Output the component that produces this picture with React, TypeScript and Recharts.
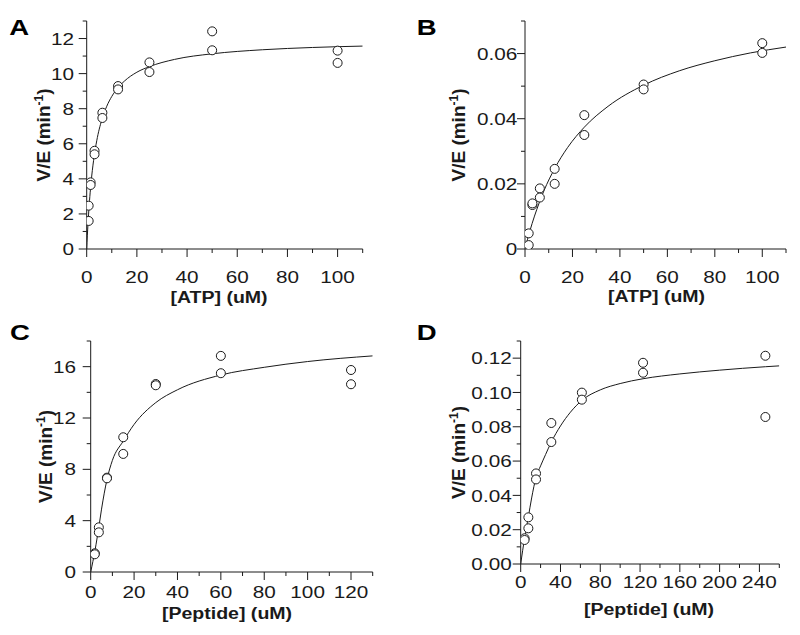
import React from 'react';
import { ComposedChart, Line, Scatter, XAxis, YAxis } from 'recharts';

const FONT = '"Liberation Sans", Arial, Helvetica, sans-serif';
const INK = '#1a1a1a';

// ---------- Panel A : [ATP] vs V/E ----------
const atpA = [0.78, 0.78, 1.56, 1.56, 3.125, 3.125, 6.25, 6.25, 12.5, 12.5, 25, 25, 50, 50, 100, 100];
const rateA = [1.6, 2.47, 3.8, 3.65, 5.6, 5.4, 7.77, 7.47, 9.29, 9.1, 10.64, 10.09, 12.41, 11.33, 11.31, 10.61];
const fitXA = [0, 0.25, 0.5, 1, 1.5, 2, 3, 4, 6, 8, 10, 12.5, 15, 20, 25, 35, 50, 70, 90, 110];
const fitYA = [0, 0.75, 1.4, 2.52, 3.41, 4.16, 5.31, 6.17, 7.36, 8.14, 8.7, 9.2, 9.57, 10.08, 10.4, 10.81, 11.13, 11.36, 11.49, 11.57];
const xTicksA = [0, 10, 20, 30, 40, 50, 60, 70, 80, 90, 100, 110];
const yTicksA = [0, 1, 2, 3, 4, 5, 6, 7, 8, 9, 10, 11, 12, 13];

// ---------- Panel B : [ATP] vs V/E ----------
const atpB = [1.56, 1.56, 3.125, 3.125, 6.25, 6.25, 12.5, 12.5, 25, 25, 50, 50, 100, 100];
const rateB = [0.0012, 0.0048, 0.0135, 0.014, 0.0186, 0.0158, 0.0246, 0.02, 0.0411, 0.035, 0.0505, 0.049, 0.0632, 0.0602];
const fitXB = [0, 1, 2, 4, 6, 8, 12.5, 18, 25, 35, 50, 65, 80, 95, 110];
const fitYB = [0, 0.0028, 0.0054, 0.0101, 0.0142, 0.0179, 0.0247, 0.0312, 0.0374, 0.0438, 0.0503, 0.0547, 0.0578, 0.0602, 0.062];
const xTicksB = [0, 10, 20, 30, 40, 50, 60, 70, 80, 90, 100, 110];
const yTicksB = [0, 0.01, 0.02, 0.03, 0.04, 0.05, 0.06, 0.07];

// ---------- Panel C : [Peptide] vs V/E ----------
const pepC = [1.875, 1.875, 3.75, 3.75, 7.5, 7.5, 15, 15, 30, 30, 60, 60, 120, 120];
const rateC = [1.46, 1.38, 3.48, 3.09, 7.35, 7.3, 10.5, 9.2, 14.65, 14.55, 16.84, 15.49, 15.74, 14.63];
const fitXC = [0, 2, 3.75, 5, 7.5, 10, 15, 20, 30, 40, 60, 80, 100, 130];
const fitYC = [0, 1.7, 3.5, 4.9, 7.2, 8.7, 10.2, 11.5, 13.2, 14.2, 15.35, 15.95, 16.4, 16.84];
const xTicksC = [0, 10, 20, 30, 40, 50, 60, 70, 80, 90, 100, 110, 120, 130];
const yTicksC = [0, 2, 4, 6, 8, 10, 12, 14, 16, 18];

// ---------- Panel D : [Peptide] vs V/E ----------
const pepD = [3.9, 3.9, 7.7, 7.7, 15.4, 15.4, 30.8, 30.8, 61.5, 61.5, 123, 123, 246, 246];
const rateD = [0.015, 0.014, 0.0272, 0.0208, 0.0528, 0.0493, 0.0822, 0.0711, 0.0999, 0.0958, 0.1173, 0.1115, 0.1214, 0.0857];
const fitXD = [0, 2, 3.9, 7.7, 11, 15.4, 20, 25, 30.8, 40, 50, 61.5, 80, 100, 123, 160, 200, 246, 260];
const fitYD = [0, 0.008, 0.015, 0.0275, 0.0385, 0.0505, 0.0572, 0.0638, 0.0711, 0.0805, 0.0885, 0.0954, 0.1015, 0.1052, 0.108, 0.1108, 0.113, 0.115, 0.1155];
const xTicksD = [0, 20, 40, 60, 80, 100, 120, 140, 160, 180, 200, 220, 240, 260];
const yTicksD = [0, 0.01, 0.02, 0.03, 0.04, 0.05, 0.06, 0.07, 0.08, 0.09, 0.1, 0.11, 0.12, 0.13];

const toPts = (xs: number[], ys: number[]) => xs.map((x, i) => ({ x, y: ys[i] }));

type Cfg = {
  letter: string;
  xTitle: string;
  ox: number; oy: number; h: number;
  L: number; R: number; T: number; B: number;
  xTicks: number[]; yTicks: number[];
  xMajor: number; yMajor: number;
  yFmt: (v: number) => string;
  yGap: number; xLblBase: number; xTitleBase: number; xTitleCx: number; yTitleCx: number;
  letterX: number; letterY: number;
  pts: { x: number; y: number }[];
  fit: { x: number; y: number }[];
};

const isMajor = (v: number, step: number) => Math.abs(v / step - Math.round(v / step)) < 1e-6;

const panels: Cfg[] = [
  {
    letter: 'A', xTitle: '[ATP] (uM)', ox: 0, oy: 0, h: 320,
    L: 86.7, R: 362.7, T: 21, B: 249,
    xTicks: xTicksA, yTicks: yTicksA, xMajor: 20, yMajor: 2,
    yFmt: (v) => String(v),
    yGap: 12.7, xLblBase: 34, xTitleBase: 53.5, xTitleCx: 219, yTitleCx: 43.3,
    letterX: 9.3, letterY: 35,
    pts: toPts(atpA, rateA), fit: toPts(fitXA, fitYA),
  },
  {
    letter: 'B', xTitle: '[ATP] (uM)', ox: 400, oy: 0, h: 320,
    L: 525, R: 786, T: 21, B: 249,
    xTicks: xTicksB, yTicks: yTicksB, xMajor: 20, yMajor: 0.02,
    yFmt: (v) => (v === 0 ? '0' : v.toFixed(2)),
    yGap: 7.7, xLblBase: 33.7, xTitleBase: 53, xTitleCx: 656.5, yTitleCx: 458,
    letterX: 416.7, letterY: 35,
    pts: toPts(atpB, rateB), fit: toPts(fitXB, fitYB),
  },
  {
    letter: 'C', xTitle: '[Peptide] (uM)', ox: 0, oy: 320, h: 315,
    L: 90.7, R: 372.7, T: 341, B: 572,
    xTicks: xTicksC, yTicks: yTicksC, xMajor: 20, yMajor: 4,
    yFmt: (v) => String(v),
    yGap: 14.7, xLblBase: 26, xTitleBase: 46.5, xTitleCx: 227, yTitleCx: 44.7,
    letterX: 10, letterY: 340,
    pts: toPts(pepC, rateC), fit: toPts(fitXC, fitYC),
  },
  {
    letter: 'D', xTitle: '[Peptide] (uM)', ox: 400, oy: 320, h: 315,
    L: 520.7, R: 779.3, T: 341, B: 564,
    xTicks: xTicksD, yTicks: yTicksD, xMajor: 40, yMajor: 0.02,
    yFmt: (v) => v.toFixed(2),
    yGap: 9, xLblBase: 24.3, xTitleBase: 51, xTitleCx: 649, yTitleCx: 458,
    letterX: 416.7, letterY: 340,
    pts: toPts(pepD, rateD), fit: toPts(fitXD, fitYD),
  },
];

const TICK_FS = 17;
const TICK_SX = 1.22;
const XTITLE_FS = 17;
const XTITLE_SX = 1.15;
const YTITLE_FS = 19;
const LETTER_FS = 22;
const LETTER_SX = 1.25;

function SText({ x, y, sx, children, ...rest }: any) {
  return (
    <text transform={`translate(${x} ${y}) scale(${sx} 1)`} x={0} y={0} fontFamily={FONT} fill={INK} {...rest}>
      {children}
    </text>
  );
}

function Panel({ cfg }: { cfg: Cfg }) {
  const W = 400;
  const YW = 70;
  const XH = 50;
  const margin = {
    left: cfg.L - cfg.ox - YW,
    right: cfg.ox + W - cfg.R,
    top: cfg.T - cfg.oy,
    bottom: cfg.oy + cfg.h - cfg.B - XH,
  };
  const plotB = cfg.B - cfg.oy;
  const plotT = cfg.T - cfg.oy;

  const xTick = (p: any) => {
    const { x, y, payload } = p;
    const major = isMajor(payload.value, cfg.xMajor);
    return (
      <g>
        <line x1={x} x2={x} y1={y} y2={y + (major ? 8 : 4)} stroke={INK} strokeWidth={1} />
        {major && (
          <SText x={x} y={y + cfg.xLblBase} sx={TICK_SX} textAnchor="middle" fontSize={TICK_FS}>
            {String(payload.value)}
          </SText>
        )}
      </g>
    );
  };

  const yTick = (p: any) => {
    const { x, y, payload } = p;
    const major = isMajor(payload.value, cfg.yMajor);
    return (
      <g>
        <line x1={x - (major ? 8 : 4)} x2={x} y1={y} y2={y} stroke={INK} strokeWidth={1} />
        {major && (
          <SText x={x - cfg.yGap} y={y} sx={TICK_SX} dy="0.36em" textAnchor="end" fontSize={TICK_FS}>
            {cfg.yFmt(payload.value)}
          </SText>
        )}
      </g>
    );
  };

  const xLabel = () => (
    <g>
      <SText
        x={cfg.xTitleCx - cfg.ox}
        y={plotB + cfg.xTitleBase}
        sx={XTITLE_SX}
        textAnchor="middle"
        fontSize={XTITLE_FS}
        fontWeight="bold"
      >
        {cfg.xTitle}
      </SText>
      <SText
        x={cfg.letterX - cfg.ox}
        y={cfg.letterY - cfg.oy}
        sx={LETTER_SX}
        fontSize={LETTER_FS}
        fontWeight="bold"
        fill="#000"
      >
        {cfg.letter}
      </SText>
    </g>
  );

  const yLabel = () => {
    const cx = cfg.yTitleCx - cfg.ox;
    const cy = (plotT + plotB) / 2;
    return (
      <text
        x={cx}
        y={cy}
        dy="0.36em"
        transform={`rotate(-90 ${cx} ${cy})`}
        textAnchor="middle"
        fontSize={YTITLE_FS}
        fontWeight="bold"
        fontFamily={FONT}
        fill={INK}
      >
        V/E (min
        <tspan dy={-7} fontSize={12}>-1</tspan>
        <tspan dy={7}>)</tspan>
      </text>
    );
  };

  return (
    <div style={{ position: 'absolute', left: cfg.ox, top: cfg.oy }}>
      <ComposedChart width={W} height={cfg.h} margin={margin}>
        <XAxis
          type="number"
          dataKey="x"
          domain={[cfg.xTicks[0], cfg.xTicks[cfg.xTicks.length - 1]]}
          ticks={cfg.xTicks}
          interval={0}
          tickLine={false}
          tickSize={0}
          tickMargin={0}
          axisLine={{ stroke: INK, strokeWidth: 1 }}
          height={XH}
          tick={xTick}
          label={xLabel}
          allowDataOverflow
        />
        <YAxis
          type="number"
          dataKey="y"
          domain={[cfg.yTicks[0], cfg.yTicks[cfg.yTicks.length - 1]]}
          ticks={cfg.yTicks}
          interval={0}
          tickLine={false}
          tickSize={0}
          tickMargin={0}
          axisLine={{ stroke: INK, strokeWidth: 1 }}
          width={YW}
          tick={yTick}
          label={yLabel}
          allowDataOverflow
        />
        <Line
          data={cfg.fit}
          dataKey="y"
          type="monotone"
          dot={false}
          activeDot={false}
          stroke={INK}
          strokeWidth={1}
          isAnimationActive={false}
        />
        <Scatter
          data={cfg.pts}
          dataKey="y"
          isAnimationActive={false}
          shape={(p: any) => (
            <circle cx={p.cx} cy={p.cy} r={4.5} fill="#fff" stroke={INK} strokeWidth={1} />
          )}
        />
      </ComposedChart>
    </div>
  );
}

export default function App() {
  return (
    <div style={{ position: 'absolute', left: 0, top: 0, width: 800, height: 635, background: '#fff' }}>
      {panels.map((c) => (
        <Panel key={c.letter} cfg={c} />
      ))}
    </div>
  );
}
